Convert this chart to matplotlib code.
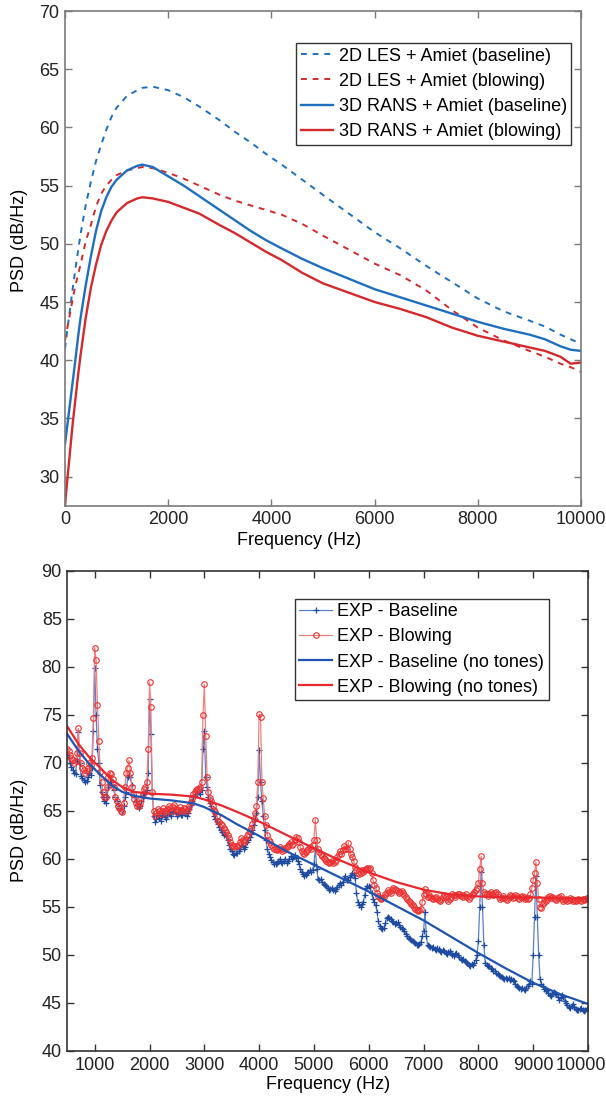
import numpy as np
import matplotlib
matplotlib.use('Agg')
import matplotlib.pyplot as plt
from matplotlib.transforms import ScaledTranslation

plt.rcParams['font.family'] = ['Liberation Sans', 'DejaVu Sans']

# ---- top panel: predictions ----
f_top = [0, 50, 100, 150, 200, 250, 300, 400, 500, 600, 700, 800, 900, 1000, 1200, 1400,
         1500, 1700, 2000, 2300, 2600, 3000, 3300, 3600, 3900, 4200, 4600, 5000, 5500,
         6000, 6500, 7000, 7500, 8000, 8500, 9000, 9300, 9600, 9800, 10000]
les_base = [41.0, 42.8, 44.5, 46.2, 47.8, 49.3, 50.8, 53.3, 55.3, 57.1, 58.5, 59.8, 60.9, 61.7,
            62.7, 63.2, 63.4, 63.5, 63.2, 62.6, 61.8, 60.6, 59.6, 58.7, 57.7, 56.8, 55.5, 54.2,
            52.6, 51.0, 49.6, 48.1, 46.7, 45.3, 44.2, 43.4, 42.9, 42.2, 41.8, 41.4]
les_blow = [41.7, 42.9, 44.1, 45.3, 46.4, 47.3, 48.2, 50.2, 51.6, 53.2, 54.3, 55.0, 55.5, 55.9,
            56.3, 56.5, 56.6, 56.5, 56.1, 55.6, 55.0, 54.2, 53.7, 53.3, 52.9, 52.5, 51.7, 50.7,
            49.5, 48.3, 47.3, 46.0, 44.3, 42.8, 41.7, 40.8, 40.3, 39.7, 39.4, 39.0]
rans_base = [32.8, 34.6, 36.4, 38.2, 40.0, 41.9, 43.6, 46.4, 48.9, 51.1, 52.8, 54.0, 54.9, 55.5,
             56.3, 56.7, 56.8, 56.6, 55.8, 55.0, 54.1, 52.9, 52.0, 51.1, 50.3, 49.6, 48.7, 47.9,
             47.0, 46.1, 45.4, 44.7, 44.0, 43.3, 42.7, 42.2, 41.8, 41.2, 40.9, 40.8]
rans_blow = [27.6, 30.0, 32.3, 34.6, 36.6, 38.6, 40.4, 43.6, 46.2, 48.2, 49.9, 51.1, 52.0, 52.7,
             53.5, 53.9, 54.0, 53.9, 53.6, 53.1, 52.6, 51.6, 50.9, 50.1, 49.3, 48.6, 47.5, 46.6,
             45.8, 45.0, 44.4, 43.7, 42.8, 42.1, 41.6, 41.1, 40.8, 40.3, 39.7, 39.8]

# ---- bottom panel: experiment, 25 Hz steps from 500 to 10000 Hz ----
f_exp = np.arange(500, 10001, 25)
exp_base = [
    70.8, 70.5, 70.0, 69.6, 69.3, 69.0, 68.9, 70.2, 73.2, 70.0, 68.6, 68.4,   # 500
    68.2, 68.0, 68.1, 68.5, 69.0, 68.7, 69.5, 73.3, 79.9, 75.0, 71.5, 70.0,   # 800
    67.7, 67.0, 66.5, 66.0, 65.8, 66.5, 67.5, 68.0, 68.0, 67.7, 67.2, 66.5,   # 1100
    66.0, 65.6, 65.3, 65.2, 65.0, 65.5, 66.5, 67.0, 68.5, 68.7, 68.5, 67.7,   # 1400
    67.0, 66.5, 66.0, 65.6, 65.3, 65.5, 66.0, 66.5, 66.8, 67.0, 67.2, 69.0,   # 1700
    76.7, 73.0, 66.8, 64.5, 63.9, 64.2, 64.6, 64.3, 64.0, 64.5, 64.8, 64.4,   # 2000
    64.2, 64.6, 65.0, 64.7, 64.5, 64.9, 65.2, 64.8, 64.5, 64.7, 65.0, 64.6,   # 2300
    64.6, 65.0, 64.8, 64.5, 64.8, 65.2, 65.6, 66.0, 66.5, 66.6, 66.8, 67.0,   # 2600
    67.0, 66.8, 67.2, 71.5, 73.3, 68.5, 67.5, 66.5, 65.8, 65.5, 65.0, 64.5,   # 2900
    64.2, 64.0, 63.6, 63.3, 63.0, 62.8, 62.5, 62.6, 62.4, 62.0, 61.5, 61.0,   # 3200
    60.8, 60.5, 60.4, 60.6, 60.6, 60.8, 61.0, 61.5, 61.3, 61.0, 61.2, 61.8,   # 3500
    62.0, 62.3, 62.6, 63.0, 63.5, 64.2, 64.8, 66.5, 71.3, 68.0, 66.0, 64.5,   # 3800
    63.0, 62.0, 61.0, 60.5, 60.2, 59.9, 59.7, 59.5, 59.5, 59.6, 59.8, 60.0,   # 4100
    59.7, 59.6, 59.8, 60.0, 59.6, 59.8, 60.0, 60.3, 60.0, 60.2, 60.4, 60.1,   # 4400
    59.8, 59.5, 59.0, 58.6, 58.4, 58.2, 58.3, 58.5, 58.6, 58.8, 58.6, 58.9,   # 4700
    59.5, 61.1, 59.0, 57.9, 57.8, 57.9, 57.6, 57.4, 57.3, 57.2, 57.0, 56.8,   # 5000
    56.9, 57.0, 56.8, 56.7, 56.9, 57.1, 57.3, 57.5, 57.3, 57.6, 58.0, 58.2,   # 5300
    57.8, 57.8, 58.1, 58.3, 58.5, 58.3, 58.0, 56.5, 55.5, 55.2, 55.0, 55.3,   # 5600
    55.5, 56.2, 57.0, 57.2, 57.2, 57.1, 56.5, 55.8, 55.5, 55.2, 54.5, 53.5,   # 5900
    53.0, 52.8, 52.7, 52.8, 53.3, 53.8, 54.0, 53.9, 53.7, 53.5, 53.4, 53.2,   # 6200
    53.3, 53.4, 53.1, 52.9, 52.8, 52.7, 52.5, 52.2, 52.0, 51.8, 51.7, 51.6,   # 6500
    51.5, 51.3, 51.2, 51.0, 51.0, 51.1, 51.3, 52.0, 52.5, 54.5, 52.0, 51.0,   # 6800
    50.9, 50.8, 50.7, 50.8, 50.6, 50.5, 50.7, 50.6, 50.4, 50.3, 50.5, 50.4,   # 7100
    50.2, 50.1, 50.3, 50.4, 50.2, 50.0, 49.9, 50.1, 50.2, 50.0, 49.8, 49.6,   # 7400
    49.5, 49.6, 49.4, 49.3, 49.2, 49.0, 48.9, 49.1, 49.0, 49.2, 49.5, 50.0,   # 7700
    51.5, 55.0, 58.6, 55.0, 51.0, 49.2, 49.0, 48.8, 48.8, 48.6, 48.5, 48.3,   # 8000
    48.3, 48.1, 48.0, 47.9, 47.8, 47.7, 47.6, 47.5, 47.6, 47.5, 47.6, 47.4,   # 8300
    47.5, 47.4, 47.3, 47.0, 46.8, 46.7, 46.6, 46.5, 46.6, 46.5, 46.4, 46.6,   # 8600
    46.8, 47.0, 47.3, 47.0, 50.0, 54.0, 58.2, 54.0, 50.0, 47.5, 47.0, 46.8,   # 8900
    46.5, 46.2, 46.3, 46.0, 45.8, 45.7, 45.9, 46.1, 46.0, 45.9, 45.6, 45.3,   # 9200
    45.5, 45.8, 45.6, 45.2, 45.0, 44.8, 44.6, 44.5, 44.7, 44.9, 44.6, 44.4,   # 9500
    44.3, 44.3, 44.4, 44.5, 44.3, 44.2, 44.3, 44.4, 44.5]                    # 9800
exp_blow = [
    71.5, 71.2, 70.8, 70.5, 70.3, 70.0, 70.2, 71.0, 73.6, 71.0, 70.0, 69.5,   # 500
    69.3, 69.0, 69.2, 69.5, 70.0, 69.8, 70.5, 74.7, 82.0, 80.7, 76.0, 72.3,   # 800
    69.1, 68.0, 67.0, 66.5, 66.5, 67.5, 68.5, 69.0, 68.8, 68.3, 67.5, 66.5,   # 1100
    66.0, 65.5, 65.3, 65.0, 64.9, 65.8, 67.5, 69.0, 69.5, 70.3, 69.0, 67.5,   # 1400
    66.8, 66.2, 65.8, 65.5, 65.5, 65.8, 66.3, 66.8, 67.3, 67.5, 68.0, 71.5,   # 1700
    78.4, 75.8, 67.0, 65.0, 64.5, 64.8, 65.2, 65.0, 64.7, 65.0, 65.3, 65.0,   # 2000
    64.8, 65.2, 65.5, 65.3, 65.0, 65.4, 65.6, 65.2, 64.9, 65.1, 65.4, 65.1,   # 2300
    65.0, 65.3, 65.2, 65.0, 65.2, 65.5, 65.9, 66.3, 66.8, 67.0, 67.2, 67.3,   # 2600
    67.3, 67.5, 68.0, 75.0, 78.2, 72.8, 68.5, 67.0, 66.3, 66.0, 65.5, 65.1,   # 2900
    64.9, 64.5, 64.0, 63.8, 63.6, 63.5, 63.2, 63.0, 62.8, 62.5, 62.2, 61.8,   # 3200
    61.5, 61.3, 61.2, 61.4, 61.3, 61.5, 61.8, 62.2, 62.0, 61.8, 62.0, 62.4,   # 3500
    62.6, 62.9, 63.2, 63.6, 64.2, 64.8, 65.5, 68.0, 75.1, 74.8, 68.0, 66.3,   # 3800
    64.5, 63.5, 62.5, 62.0, 61.8, 61.5, 61.2, 61.0, 61.0, 60.9, 61.0, 61.2,   # 4100
    61.0, 60.8, 60.9, 61.1, 61.2, 61.4, 61.6, 61.8, 61.5, 61.6, 62.0, 62.3,   # 4400
    62.2, 61.8, 61.2, 60.8, 60.6, 60.5, 60.7, 60.9, 61.0, 61.2, 61.0, 61.5,   # 4700
    62.0, 64.1, 62.0, 61.0, 60.7, 60.5, 60.3, 60.1, 60.0, 59.8, 59.7, 59.6,   # 5000
    59.7, 59.8, 59.6, 59.7, 59.9, 60.2, 60.5, 60.8, 60.5, 60.9, 61.4, 61.0,   # 5300
    61.0, 61.7, 61.0, 60.5, 60.2, 59.8, 59.2, 58.8, 58.5, 58.4, 58.5, 58.8,   # 5600
    58.6, 58.8, 59.0, 59.1, 59.0, 59.1, 58.5, 57.8, 57.3, 57.0, 56.5, 56.1,   # 5900
    55.9, 55.8, 55.9, 56.0, 56.3, 56.5, 56.8, 56.6, 56.5, 56.8, 57.0, 56.9,   # 6200
    56.8, 56.7, 56.5, 56.6, 56.7, 56.5, 56.2, 56.0, 55.8, 55.6, 55.5, 55.3,   # 6500
    55.2, 55.0, 54.8, 54.7, 54.6, 54.7, 54.8, 55.5, 56.2, 56.9, 56.3, 56.0,   # 6800
    56.2, 56.0, 55.9, 55.8, 55.9, 56.0, 55.8, 55.7, 55.6, 55.8, 56.0, 56.2,   # 7100
    56.0, 55.8, 55.6, 55.8, 56.0, 56.3, 56.2, 56.0, 56.2, 56.4, 56.3, 56.1,   # 7400
    56.2, 56.0, 56.1, 56.3, 56.0, 55.8, 56.0, 56.2, 56.4, 56.6, 56.8, 57.0,   # 7700
    57.5, 59.0, 60.3, 57.5, 56.6, 56.4, 56.3, 56.1, 56.3, 56.6, 56.4, 56.2,   # 8000
    56.5, 56.6, 56.4, 56.0, 55.8, 55.9, 56.1, 55.9, 55.8, 55.7, 56.0, 56.2,   # 8300
    56.1, 55.9, 56.0, 56.2, 56.1, 55.9, 55.8, 56.0, 56.1, 56.0, 55.8, 55.9,   # 8600
    55.8, 55.9, 56.3, 57.0, 57.8, 58.5, 59.7, 57.5, 55.8, 55.0, 54.9, 55.3,   # 8900
    55.5, 55.6, 55.8, 56.0, 56.1, 55.9, 56.0, 55.9, 55.8, 55.7, 55.9, 56.0,   # 9200
    56.1, 55.8, 55.6, 55.7, 55.8, 55.6, 55.7, 55.9, 55.8, 55.6, 55.7, 55.6,   # 9500
    55.7, 55.8, 55.7, 55.6, 55.8, 55.7, 55.8, 55.9, 55.8]                    # 9800

# tones removed (smooth fits)
f_fit = [500, 700, 900, 1100, 1300, 1500, 1700, 2000, 2400, 2800, 3000, 3300, 3600, 4000,
         4500, 5000, 5500, 6000, 6500, 7000, 7500, 8000, 8500, 9000, 9500, 10000]
fit_base = [73.0, 71.3, 69.9, 68.8, 67.7, 67.0, 66.6, 66.3, 66.1, 65.8, 65.4, 64.6, 63.6, 62.4,
            60.8, 59.4, 58.0, 56.6, 55.1, 53.6, 51.9, 50.2, 48.6, 47.1, 45.9, 44.9]
fit_blow = [73.8, 72.0, 70.6, 69.5, 68.3, 67.5, 67.0, 66.8, 66.7, 66.5, 66.2, 65.6, 64.9, 63.9,
            62.5, 61.1, 59.8, 58.6, 57.6, 56.8, 56.3, 56.1, 56.0, 56.0, 55.9, 55.9]

blue = '#1f6fc0'
red = '#d42a2e'

fig = plt.figure(figsize=(6.06, 11.02), dpi=100)
ax1 = fig.add_axes([0.1073, 0.5411, 0.8515, 0.4489])
ax2 = fig.add_axes([0.1111, 0.0463, 0.8592, 0.4356])

ax1.plot(f_top, les_base, '--', color=blue, lw=1.4, dashes=(3, 3), label='2D LES + Amiet (baseline)')
ax1.plot(f_top, les_blow, '--', color=red, lw=1.4, dashes=(3, 3), label='2D LES + Amiet (blowing)')
ax1.plot(f_top, rans_base, '-', color=blue, lw=1.7, label='3D RANS + Amiet (baseline)')
ax1.plot(f_top, rans_blow, '-', color=red, lw=1.7, label='3D RANS + Amiet (blowing)')
ax1.set_xlim(0, 10000)
ax1.set_ylim(27.5, 70)
ax1.set_xticks(range(0, 10001, 2000))
ax1.set_yticks(range(30, 71, 5))
ax1.set_xlabel('Frequency (Hz)', fontsize=13)
ax1.set_ylabel('PSD (dB/Hz)', fontsize=13)
ax1.xaxis.set_label_coords(0.453, -0.054)
ax1.yaxis.set_label_coords(-0.072, 0.537)
ax1.legend(loc='upper left', bbox_to_anchor=(0.448, 0.935), borderaxespad=0, fontsize=13,
           fancybox=False, edgecolor='#333333', framealpha=1, handlelength=1.8,
           handletextpad=0.3, labelspacing=0.45, borderpad=0.25)

ax2.plot(f_exp, exp_base, '-', color='#5a80c8', lw=0.9, marker='+', ms=5, mew=0.9,
         mec='#1e4ba0', label='EXP - Baseline')
ax2.plot(f_exp, exp_blow, '-', color='#f28080', lw=0.9, marker='o', ms=4, mew=0.8,
         mec='#ec3030', mfc='none', label='EXP - Blowing')
ax2.plot(f_fit, fit_base, '-', color='#1f55b0', lw=1.6, label='EXP - Baseline (no tones)')
ax2.plot(f_fit, fit_blow, '-', color='#e8282e', lw=1.6, label='EXP - Blowing (no tones)')
ax2.set_xlim(500, 10000)
ax2.set_ylim(40, 90)
ax2.set_xticks(range(1000, 10001, 1000))
ax2.set_yticks(range(40, 91, 5))
ax2.set_xlabel('Frequency (Hz)', fontsize=13, labelpad=2)
ax2.set_ylabel('PSD (dB/Hz)', fontsize=13)
ax2.yaxis.set_label_coords(-0.075, 0.46)
leg = ax2.legend(loc='upper left', bbox_to_anchor=(0.437, 0.942), borderaxespad=0, fontsize=13,
                 fancybox=False, edgecolor='#333333', framealpha=1, handlelength=1.8,
                 handletextpad=0.3, labelspacing=0.45, borderpad=0.25)
leg.legend_handles[1].set_markerfacecolor('none')

for ax, sc in ((ax1, '#7a7a7a'), (ax2, '#333333')):
    for s in ax.spines.values():
        s.set_color(sc)
        s.set_linewidth(1.2)
    ax.tick_params(direction='in', top=True, right=True, length=5, width=1,
                   color=sc, labelsize=13, labelcolor='#222222', pad=4)

# keep the last bottom tick label inside the figure edge
fig.canvas.draw()
last = ax2.get_xticklabels()[-1]
last.set_transform(last.get_transform() + ScaledTranslation(-7 / 100, 0, fig.dpi_scale_trans))

fig.savefig('out.png', dpi=100)
